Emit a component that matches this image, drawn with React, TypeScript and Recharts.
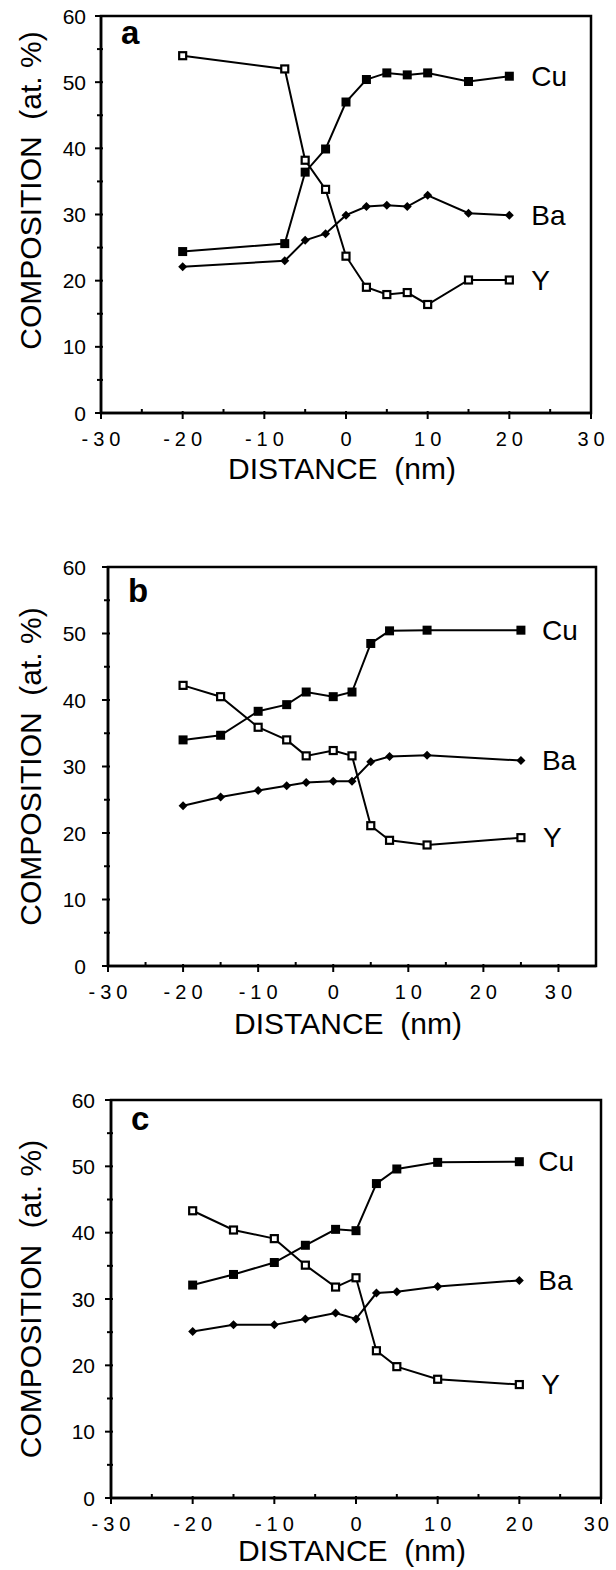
import { LineChart, Line, XAxis, YAxis, ReferenceArea, LabelList } from "recharts";

const FONT = "'Liberation Sans', Arial, Helvetica, sans-serif";

// panel a
const A_X = [-20, -7.5, -5, -2.5, 0, 2.5, 5, 7.5, 10, 15, 20];
const A_CU = [24.4, 25.6, 36.4, 39.9, 47.0, 50.4, 51.4, 51.1, 51.4, 50.1, 50.9];
const A_BA = [22.1, 23.0, 26.1, 27.1, 29.9, 31.2, 31.4, 31.2, 32.9, 30.2, 29.9];
const A_Y = [54.0, 52.0, 38.2, 33.8, 23.7, 19.0, 17.9, 18.2, 16.4, 20.1, 20.1];

// panel b
const B_X = [-20, -15, -10, -6.2, -3.6, 0, 2.5, 5, 7.5, 12.5, 25];
const B_CU = [34.0, 34.7, 38.3, 39.3, 41.2, 40.5, 41.2, 48.5, 50.4, 50.5, 50.5];
const B_BA = [24.1, 25.4, 26.4, 27.1, 27.6, 27.8, 27.8, 30.7, 31.5, 31.7, 30.9];
const B_Y = [42.2, 40.5, 35.9, 34.0, 31.6, 32.4, 31.6, 21.1, 18.9, 18.2, 19.3];

// panel c
const C_X = [-20, -15, -10, -6.2, -2.5, 0, 2.5, 5, 10, 20];
const C_CU = [32.1, 33.7, 35.5, 38.1, 40.5, 40.3, 47.4, 49.6, 50.6, 50.7];
const C_BA = [25.1, 26.1, 26.1, 27.0, 27.9, 27.0, 30.9, 31.1, 31.9, 32.8];
const C_Y = [43.3, 40.4, 39.1, 35.1, 31.8, 33.2, 22.2, 19.8, 17.9, 17.1];

const Y_TICKS = [0, 5, 10, 15, 20, 25, 30, 35, 40, 45, 50, 55, 60];
const X_TICKS = [-30, -25, -20, -15, -10, -5, 0, 5, 10, 15, 20, 25, 30];
const X_TICKS_WIDE = [...X_TICKS, 35];
const SERIES_NAMES = ["Cu", "Ba", "Y"];

const rows = (xs: number[], cu: number[], ba: number[], y: number[]) =>
  xs.map((x, i) => ({ x, cu: cu[i], ba: ba[i], y: y[i] }));

const XTick = (props: any) => {
  const { x, y, payload } = props;
  const v = payload.value;
  const major = v % 10 === 0;
  // keep the last label inside the page
  const nearEdge = x + 17 > 612;
  return (
    <g>
      <line x1={x} x2={x} y1={major ? y - 2 : y - 4} y2={major ? y + 6 : y + 1} stroke="#000" strokeWidth={2} />
      {major && v <= 30 && (
        <text
          x={nearEdge ? 612 : x + 2.5}
          y={y + 33}
          textAnchor={nearEdge ? "end" : "middle"}
          fontSize={20}
          letterSpacing={nearEdge ? 3 : 5}
          fontFamily={FONT}
          fill="#000"
        >
          {v < 0 ? `-${Math.abs(v)}` : `${v}`}
        </text>
      )}
    </g>
  );
};

const makeYTick = (gap: number) => (props: any) => {
  const { x, y, payload } = props;
  const v = payload.value;
  const major = v % 10 === 0;
  return (
    <g>
      <line x1={major ? x - 6 : x - 4} x2={x + 2} y1={y} y2={y} stroke="#000" strokeWidth={2} />
      {major && (
        <text x={x - gap} y={y} textAnchor="end" dominantBaseline="central" fontSize={21} fontFamily={FONT} fill="#000">
          {v}
        </text>
      )}
    </g>
  );
};

const FilledSquare = (props: any) => {
  const { cx, cy } = props;
  return <rect x={cx - 4.5} y={cy - 4.5} width={9} height={9} fill="#000" />;
};
const OpenSquare = (props: any) => {
  const { cx, cy } = props;
  return <rect x={cx - 3.5} y={cy - 3.5} width={7} height={7} fill="#fff" stroke="#000" strokeWidth={2.2} />;
};
const Diamond = (props: any) => {
  const { cx, cy } = props;
  return <polygon points={`${cx},${cy - 4.5} ${cx + 4.5},${cy} ${cx},${cy + 4.5} ${cx - 4.5},${cy}`} fill="#000" />;
};

const endLabel = (name: string, count: number, gap: number) => (props: any) => {
  const { x, y, index } = props;
  if (index !== count - 1) return null;
  return (
    <text x={x + gap} y={y} dominantBaseline="central" fontSize={28} fontFamily={FONT} fill="#000">
      {name}
    </text>
  );
};

type PanelProps = {
  data: { x: number; cu: number; ba: number; y: number }[];
  letter: string;
  top: number;
  height: number;
  axisHeight: number;
  titleDy: number;
  marginTop: number;
  plotLeft: number;
  plotRight: number;
  xMax: number;
  xTicks: number[];
  tickGap: number;
  yLabelShift: number;
  letterDy: number;
  nameGap: number;
};

const Panel = (p: PanelProps) => {
  const n = p.data.length;
  return (
    <div style={{ position: "absolute", left: 0, top: p.top }}>
      <LineChart
        width={616}
        height={p.height}
        data={p.data}
        margin={{ top: p.marginTop, right: 616 - p.plotRight, bottom: 0, left: 0 }}
      >
        <XAxis
          dataKey="x"
          type="number"
          domain={[-30, p.xMax]}
          ticks={p.xTicks}
          interval={0}
          height={p.axisHeight}
          tickSize={0}
          tickMargin={0}
          tickLine={false}
          axisLine={{ stroke: "#000", strokeWidth: 2.5 }}
          tick={<XTick />}
          label={(lp: any) => {
            const vb = lp.viewBox;
            return (
              <text
                x={vb.x + vb.width / 2 - 4}
                y={vb.y + p.titleDy}
                textAnchor="middle"
                fontSize={30}
                fontFamily={FONT}
                fill="#000"
                style={{ whiteSpace: "pre" }}
              >
                {"DISTANCE  (nm)"}
              </text>
            );
          }}
        />
        <YAxis
          type="number"
          domain={[0, 60]}
          ticks={Y_TICKS}
          interval={0}
          width={p.plotLeft}
          tickSize={0}
          tickMargin={0}
          tickLine={false}
          axisLine={{ stroke: "#000", strokeWidth: 2.5 }}
          tick={makeYTick(p.tickGap)}
          label={(lp: any) => {
            const vb = lp.viewBox;
            const cy = vb.y + vb.height / 2 + p.yLabelShift;
            return (
              <text
                x={30}
                y={cy}
                transform={`rotate(-90, 30, ${cy})`}
                textAnchor="middle"
                dominantBaseline="central"
                fontSize={30}
                fontFamily={FONT}
                fill="#000"
                style={{ whiteSpace: "pre" }}
              >
                {"COMPOSITION  (at. %)"}
              </text>
            );
          }}
        />
        <ReferenceArea
          x1={-30}
          x2={p.xMax}
          y1={0}
          y2={60}
          fill="none"
          stroke="#000"
          strokeWidth={2.5}
          ifOverflow="visible"
          label={(lp: any) => {
            const vb = lp.viewBox;
            return (
              <text
                x={vb.x + 20}
                y={vb.y + p.letterDy}
                fontSize={33}
                fontWeight="bold"
                fontFamily={FONT}
                fill="#000"
              >
                {p.letter}
              </text>
            );
          }}
        />
        <Line dataKey="y" stroke="#000" strokeWidth={2} dot={<OpenSquare />} isAnimationActive={false}>
          <LabelList dataKey="y" content={endLabel(SERIES_NAMES[2], n, 22)} />
        </Line>
        <Line dataKey="ba" stroke="#000" strokeWidth={2} dot={<Diamond />} isAnimationActive={false}>
          <LabelList dataKey="ba" content={endLabel(SERIES_NAMES[1], n, p.nameGap)} />
        </Line>
        <Line dataKey="cu" stroke="#000" strokeWidth={2} dot={<FilledSquare />} isAnimationActive={false}>
          <LabelList dataKey="cu" content={endLabel(SERIES_NAMES[0], n, p.nameGap)} />
        </Line>
      </LineChart>
    </div>
  );
}

export default function App() {
  return (
    <div
      style={{
        position: "absolute",
        left: 0,
        top: 0,
        width: 616,
        height: 1570,
        overflow: "hidden",
        background: "#fff",
      }}
    >
      <Panel
        data={rows(A_X, A_CU, A_BA, A_Y)}
        letter="a"
        top={0}
        height={498}
        axisHeight={85}
        titleDy={66}
        marginTop={16}
        plotLeft={101}
        plotRight={591}
        xMax={30}
        xTicks={X_TICKS}
        tickGap={15}
        yLabelShift={-24}
        letterDy={28}
        nameGap={22}
      />
      <Panel
        data={rows(B_X, B_CU, B_BA, B_Y)}
        letter="b"
        top={520}
        height={531}
        axisHeight={85}
        titleDy={68}
        marginTop={47}
        plotLeft={108}
        plotRight={596}
        xMax={35}
        xTicks={X_TICKS_WIDE}
        tickGap={22}
        yLabelShift={0}
        letterDy={35}
        nameGap={21}
      />
      <Panel
        data={rows(C_X, C_CU, C_BA, C_Y)}
        letter="c"
        top={1050}
        height={520}
        axisHeight={72}
        titleDy={63}
        marginTop={50}
        plotLeft={111}
        plotRight={601}
        xMax={30}
        xTicks={X_TICKS}
        tickGap={16}
        yLabelShift={0}
        letterDy={30}
        nameGap={19}
      />
    </div>
  );
}
